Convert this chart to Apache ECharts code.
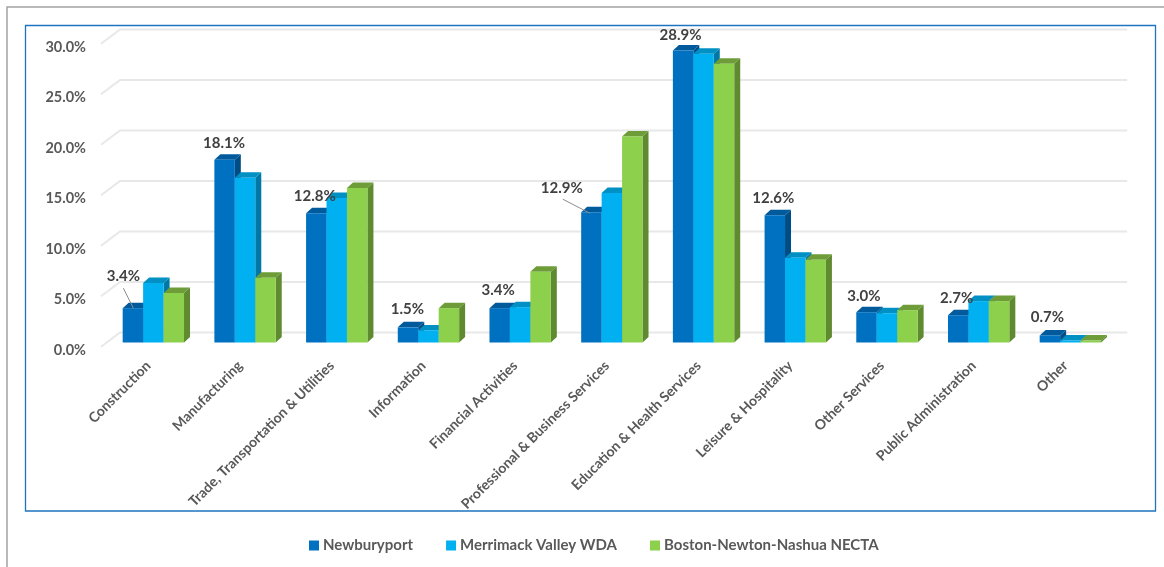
<!DOCTYPE html>
<html>
<head>
<meta charset="utf-8">
<style>html,body{margin:0;padding:0;background:#fff}#c{width:1164px;height:567px}</style>
<script src="https://cdn.jsdelivr.net/npm/echarts@6/dist/echarts.min.js"></script>
</head>
<body>
<div id="c"></div>
<script>
const categories = ['Construction','Manufacturing','Trade, Transportation & Utilities','Information','Financial Activities','Professional & Business Services','Education & Health Services','Leisure & Hospitality','Other Services','Public Administration','Other'];
const newburyport = [3.4,18.1,12.8,1.5,3.4,12.9,28.9,12.6,3.0,2.7,0.7];
const merrimack = [5.9,16.3,14.3,1.2,3.5,14.8,28.6,8.4,2.9,4.1,0.2];
const boston = [4.9,6.4,15.3,3.4,7.0,20.4,27.6,8.2,3.2,4.1,0.2];
const yTicks = [0,5,10,15,20,25,30];
const seriesNames = ['Newburyport','Merrimack Valley WDA','Boston-Newton-Nashua NECTA'];

const faces = [
  {front:'#0070c0', top:'#005a9c', side:'#004d85'},
  {front:'#00b0f0', top:'#0090c4', side:'#0078a6'},
  {front:'#8cd04c', top:'#6d9c38', side:'#5f8a30'}
];
const labelNudge = [[-30,-32],[-21,-17],[-22,-17],[-21,-18],[-22,-18],[-50,-24],[-23,-15],[-22,-17],[-23,-16],[-22,-17],[-23,-18]];
const leaderEnd = {0:[-20,0], 5:[-22,1]};
const DX = 6, DY = 5.5, GROUP = 0.669;

function barRenderer(idx){
  return function(params, api){
    const cat = api.value(0), val = api.value(1);
    const top = api.coord([cat,val]), base = api.coord([cat,0]);
    const w = api.size([1,0])[0]*GROUP/3;
    const x0 = top[0]-1.5*w+idx*w, x1 = x0+w, yT = top[1], yB = base[1];
    const f = faces[idx];
    return {type:'group',children:[
      {type:'polygon',shape:{points:[[x1,yT],[x1+DX,yT-DY],[x1+DX,yB-DY],[x1,yB]]},style:{fill:f.side}},
      {type:'polygon',shape:{points:[[x0,yT],[x0+DX,yT-DY],[x1+DX,yT-DY],[x1,yT]]},style:{fill:f.top}},
      {type:'rect',shape:{x:x0,y:yT,width:w,height:yB-yT},style:{fill:f.front}}
    ]};
  };
}
function wallRenderer(params, api){
  const p = api.coord([0,api.value(0)]);
  const cs = params.coordSys, l = cs.x, r = cs.x+cs.width, y = p[1];
  return {type:'polyline',shape:{points:[[l-6.5,y+4.2],[l+12.5,y-10],[r+11,y-10]]},
    style:{stroke:'#e8e8e8',lineWidth:2,fill:null}};
}
function labelRenderer(params, api){
  const i = params.dataIndex, p = api.coord([api.value(0),api.value(1)]);
  const n = labelNudge[i], cx = p[0]+n[0], cy = p[1]+n[1];
  const kids = [{type:'text',style:{x:cx,y:cy,text:newburyport[i].toFixed(1)+'%',align:'center',verticalAlign:'middle',
    font:'bold 15px Lato',fill:'#404040'}}];
  if(leaderEnd[i]){
    const e = leaderEnd[i];
    kids.push({type:'line',shape:{x1:cx+(i===0?0:1),y1:cy+(i===0?12:11),x2:p[0]+e[0],y2:p[1]+e[1]},style:{stroke:'#8c8c8c',lineWidth:1}});
  }
  return {type:'group',children:kids};
}
const bars = [newburyport,merrimack,boston].map((vals,idx)=>({
  type:'custom',name:seriesNames[idx],z:3,
  itemStyle:{color:faces[idx].front},
  renderItem:barRenderer(idx),
  encode:{x:0,y:1},
  data:vals.map((v,i)=>[i,v])
}));

const chart = echarts.init(document.getElementById('c'),null,{renderer:'canvas'});
chart.setOption({
  animation:false,
  backgroundColor:'#fff',
  color:faces.map(f=>f.front),
  grid:{left:107.5,top:39.5,width:1008.7,height:303,containLabel:false},
  xAxis:{type:'category',data:categories,axisLine:{show:false},axisTick:{show:false},splitLine:{show:false},
    axisLabel:{rotate:45,interval:0,margin:16,padding:[0,7,0,0],fontFamily:'Lato',fontWeight:'bold',fontSize:14,color:'#595959'}},
  yAxis:{type:'value',min:0,max:30,interval:5,axisLine:{show:false},axisTick:{show:false},splitLine:{show:false},
    axisLabel:{margin:21.5,verticalAlign:'top',fontFamily:'Lato',fontWeight:'bold',fontSize:14.5,color:'#595959',formatter:v=>v.toFixed(1)+'%'}},
  legend:{left:309,top:538,padding:0,z:200,itemWidth:10,itemHeight:10,itemGap:33,icon:'rect',
    textStyle:{fontFamily:'Lato',fontWeight:'bold',fontSize:15,color:'#595959',padding:[0,0,0,-1]},
    data:seriesNames},
  graphic:[
    {type:'rect',z:100,silent:true,shape:{x:9,y:512,width:1155,height:55},style:{fill:'#fff'}},
    {type:'polyline',z:101,silent:true,shape:{points:[[7,567],[7,7],[1164,7]]},style:{stroke:'#a3a3a3',lineWidth:1.5,fill:null}},
    {type:'rect',z:101,silent:true,shape:{x:25.5,y:25.5,width:1130,height:485.5},style:{stroke:'#1f74c0',lineWidth:1.3,fill:null}}
  ],
  series:[
    {type:'custom',name:'wall',z:1,silent:true,renderItem:wallRenderer,encode:{y:0},data:yTicks.map(v=>[v])},
    ...bars,
    {type:'custom',name:'labels',z:5,silent:true,renderItem:labelRenderer,encode:{x:0,y:1},data:newburyport.map((v,i)=>[i,v])}
  ]
});
</script>
</body>
</html>
